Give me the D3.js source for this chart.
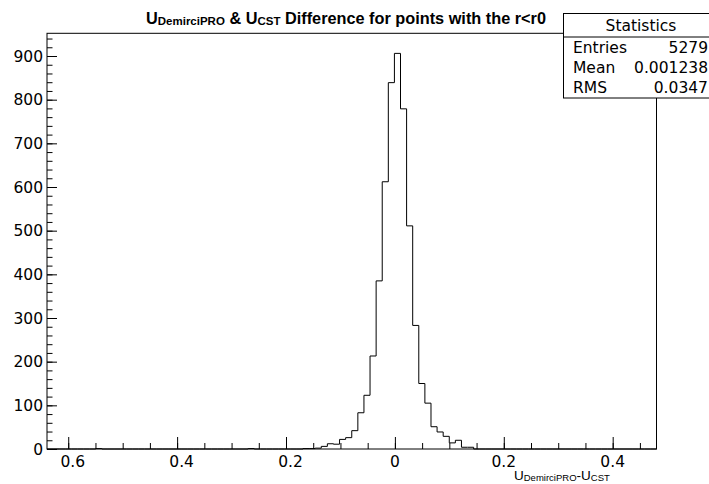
<!DOCTYPE html>
<html>
<head>
<meta charset="utf-8">
<script src="https://cdn.jsdelivr.net/npm/d3@7"></script>
<style>
html,body{margin:0;padding:0;background:#fff;}
svg{display:block;}
</style>
</head>
<body>
<svg id="chart" width="709" height="484"></svg>
<script>
// ---- data ----
const xMin = -0.639, xMax = 0.4805, nBins = 100;
// bin counts (index = bin number, 100 bins)
const counts = [
  0,0,0,0,0,0,0,0,1,0,
  0,0,0,0,0,0,0,0,0,0,
  0,0,0,0,0,0,0,0,0,0,
  0,0,0,1,0,0,0,0,0,0,
  0,0,1,1,2,6,12,11,22,26,
  42,83,123,213,385,612,839,906,779,511,
  283,150,105,51,39,29,14,20,4,4,
  0,0,0,0,0,0,0,0,0,0,
  0,0,0,0,0,0,0,0,0,0,
  0,0,0,0,0,0,0,0,0,0
];
const xTickValues = [-0.6, -0.4, -0.2, 0, 0.2, 0.4];
const xTickLabels = ["0.6", "0.4", "0.2", "0", "0.2", "0.4"];
const yTickValues = [0, 100, 200, 300, 400, 500, 600, 700, 800, 900];
const statNames = ["Entries", "Mean", "RMS"];
const statValues = ["5279", "0.001238", "0.0347"];
const yMax = 952;

// ---- layout ----
const L = 47, R = 656.5, T = 33.3, B = 449;
const svg = d3.select("#chart");
const x = d3.scaleLinear().domain([xMin, xMax]).range([L, R]);
const y = d3.scaleLinear().domain([0, yMax]).range([B, T]);
const binW = (xMax - xMin) / nBins;

const numFont = "'DejaVu Sans', sans-serif";

// frame
svg.append("rect").attr("x", L).attr("y", T).attr("width", R - L).attr("height", B - T)
  .attr("fill", "none").attr("stroke", "#000").attr("stroke-width", 1);

// histogram
const pts = counts.map((c, i) => [xMin + i * binW, c]);
pts.push([xMax, counts[counts.length - 1]]);
const line = d3.line().x(d => x(d[0])).y(d => y(d[1])).curve(d3.curveStepAfter);
svg.append("path").attr("d", line(pts)).attr("fill", "none").attr("stroke", "#000").attr("stroke-width", 1);

// x axis ticks
const xMinor = d3.range(-0.6, 0.4801, 0.05).filter(v => v >= xMin && v <= xMax);
const xAxisMinor = d3.axisTop(x).tickValues(xMinor).tickSize(6).tickFormat("");
const gxm = svg.append("g").attr("transform", `translate(0,${B})`).call(xAxisMinor);
const xAxis = d3.axisTop(x).tickValues(xTickValues).tickSize(12).tickFormat("");
const gx = svg.append("g").attr("transform", `translate(0,${B})`).call(xAxis);
[gxm, gx].forEach(g => { g.select(".domain").remove(); g.selectAll("line").attr("stroke", "#000"); });

svg.append("g").selectAll("text").data(xTickValues).join("text")
  .attr("x", (d) => x(d) + (d < 0 ? 4.5 : 0))
  .attr("y", 467)
  .attr("text-anchor", "middle")
  .attr("font-family", numFont).attr("font-size", 15.5).attr("fill", "#000")
  .text((d, i) => xTickLabels[i]);

// y axis ticks
const yMinor = d3.range(0, yMax, 20);
const yAxisMinor = d3.axisRight(y).tickValues(yMinor).tickSize(5.5).tickFormat("");
const gym = svg.append("g").attr("transform", `translate(${L},0)`).call(yAxisMinor);
const yAxis = d3.axisRight(y).tickValues(yTickValues).tickSize(10).tickFormat("");
const gy = svg.append("g").attr("transform", `translate(${L},0)`).call(yAxis);
[gym, gy].forEach(g => { g.select(".domain").remove(); g.selectAll("line").attr("stroke", "#000"); });

svg.append("g").selectAll("text").data(yTickValues).join("text")
  .attr("x", 43).attr("y", d => y(d) + 5.7)
  .attr("text-anchor", "end")
  .attr("font-family", numFont).attr("font-size", 15.5).attr("fill", "#000")
  .text(d => d3.format("d")(d));

// title
const title = svg.append("text").attr("x", 146).attr("y", 23.5)
  .attr("font-family", "'Liberation Sans', Arial, sans-serif").attr("font-weight", "bold")
  .attr("font-size", 16.3).attr("fill", "#000");
title.append("tspan").text("U");
title.append("tspan").attr("font-size", 11.5).attr("dy", 1).text("DemirciPRO");
title.append("tspan").attr("dy", -1).text(" & U");
title.append("tspan").attr("font-size", 11.5).attr("dy", 1).text("CST");
title.append("tspan").attr("dy", -1).text(" Difference for points with the r<r0");

// x axis title
const xt = svg.append("text").attr("x", 514).attr("y", 480)
  .attr("font-family", "'Liberation Sans', Arial, sans-serif")
  .attr("font-size", 13.5).attr("fill", "#000");
xt.append("tspan").text("U");
xt.append("tspan").attr("font-size", 9.5).attr("dy", 1).text("DemirciPRO");
xt.append("tspan").attr("dy", -1).text("-U");
xt.append("tspan").attr("font-size", 9.5).attr("dy", 1).text("CST");

// stats box
const bx = 563.5, by = 13.5, bw = 160, bh = 84.5;
svg.append("rect").attr("x", bx).attr("y", by).attr("width", bw).attr("height", bh)
  .attr("fill", "#fff").attr("stroke", "#000").attr("stroke-width", 1);
svg.append("line").attr("x1", bx).attr("x2", bx + bw).attr("y1", 37).attr("y2", 37)
  .attr("stroke", "#000").attr("stroke-width", 1);
svg.append("text").attr("x", 641).attr("y", 31).attr("text-anchor", "middle")
  .attr("font-family", numFont).attr("font-size", 15.5).attr("fill", "#000").text("Statistics");
const rowsY = [53, 73, 93];
svg.append("g").selectAll("text").data(statNames).join("text")
  .attr("x", 573).attr("y", (d, i) => rowsY[i])
  .attr("font-family", numFont).attr("font-size", 15.5).attr("fill", "#000").text(d => d);
svg.append("g").selectAll("text").data(statValues).join("text")
  .attr("x", 708).attr("y", (d, i) => rowsY[i]).attr("text-anchor", "end")
  .attr("font-family", numFont).attr("font-size", 15.5).attr("fill", "#000").text(d => d);
</script>
</body>
</html>
